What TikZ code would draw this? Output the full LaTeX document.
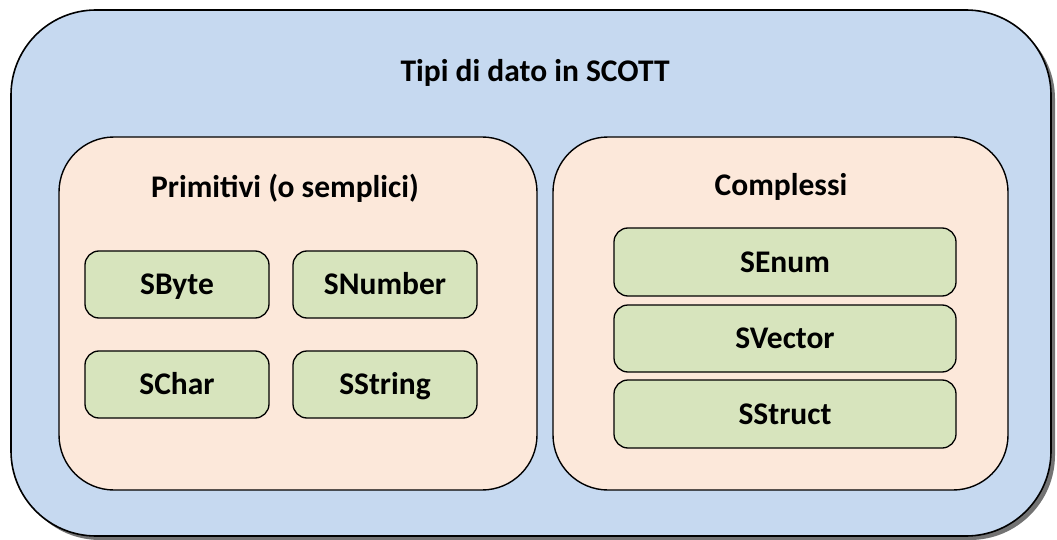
\documentclass[tikz,border=0pt]{standalone}
\usepackage{fontspec}
\setmainfont{Carlito}
\usetikzlibrary{shadows}
\definecolor{outerblue}{RGB}{198,217,240}
\definecolor{pinkbg}{RGB}{252,232,218}
\definecolor{greenbg}{RGB}{215,228,189}
\begin{document}
\begin{tikzpicture}[x=1pt,y=-1pt,
  outerbox/.style={draw=black, line width=1.6pt, fill=outerblue, rounded corners=85pt,
    minimum width=1040pt, minimum height=526pt, inner sep=0pt,
    drop shadow={shadow xshift=4pt, shadow yshift=-4pt, fill=black!55, opacity=1}},
  groupbox/.style={draw=black, line width=1.4pt, fill=pinkbg, rounded corners=55pt,
    minimum height=353pt, inner sep=0pt},
  itembox/.style={draw=black, line width=1.3pt, fill=greenbg, rounded corners=14pt,
    inner sep=0pt, text height=20pt, text depth=0pt,
    font=\fontsize{31.5}{36}\selectfont\bfseries},
  lbl/.style={font=\fontsize{31.5}{36}\selectfont\bfseries, inner sep=0pt, anchor=base}]
\useasboundingbox (0,0) rectangle (1057,540);
\node[outerbox] (outer) at (531,273) {};
\node[lbl] (title) at (535,82) {Tipi di dato in SCOTT};
\node[groupbox, minimum width=478pt] (prim) at (298,313.5) {};
\node[groupbox, minimum width=455pt] (comp) at (780.5,313.5) {};
\node[lbl] (primlbl) at (285,197) {Primitivi (o semplici)};
\node[lbl] (complbl) at (781,196) {Complessi};
\node[itembox, minimum width=184pt, minimum height=67pt] (sbyte) at (177,284.5) {SByte};
\node[itembox, minimum width=184pt, minimum height=67pt] (snumber) at (385,284.5) {SNumber};
\node[itembox, minimum width=184pt, minimum height=67pt] (schar) at (177,384.5) {SChar};
\node[itembox, minimum width=184pt, minimum height=67pt] (sstring) at (385,384.5) {SString};
\node[itembox, minimum width=342pt, minimum height=68pt] (senum) at (785,262) {SEnum};
\node[itembox, minimum width=342pt, minimum height=67pt] (svector) at (785,338.5) {SVector};
\node[itembox, minimum width=342pt, minimum height=68pt] (sstruct) at (785,414) {SStruct};
\end{tikzpicture}
\end{document}
